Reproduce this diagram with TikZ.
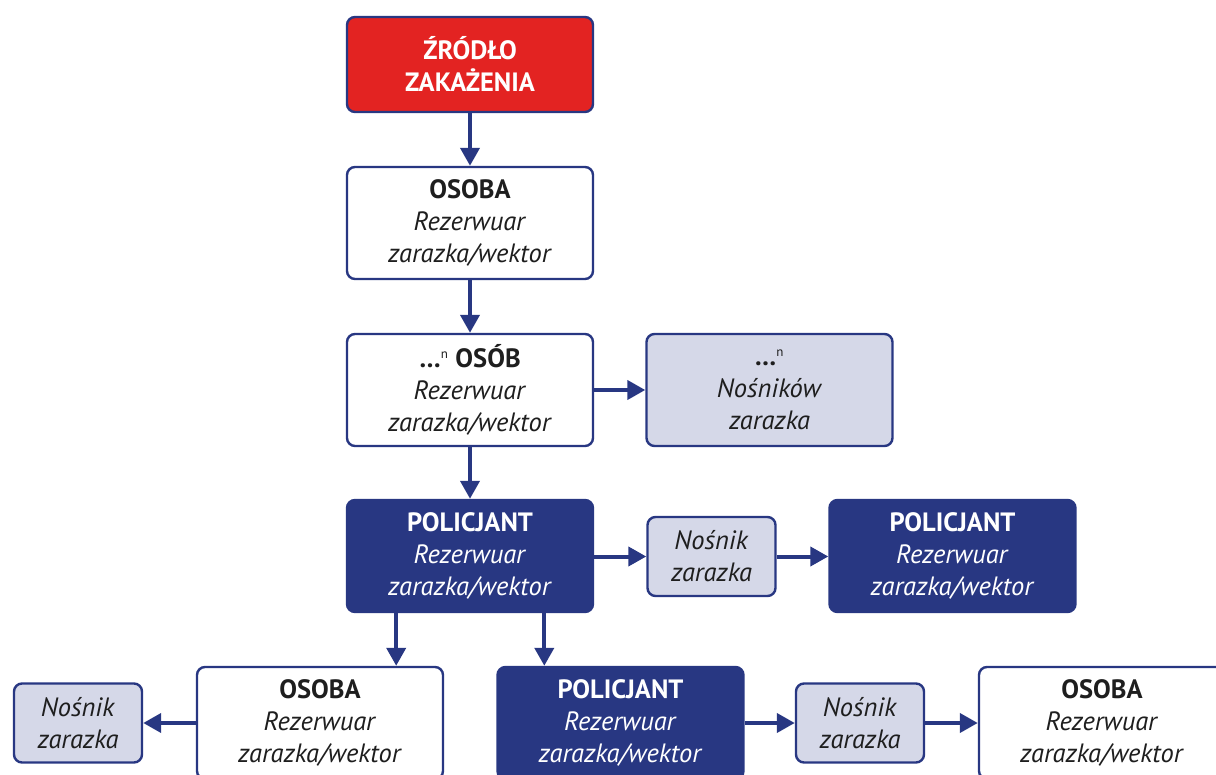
\documentclass[tikz,border=0pt]{standalone}
\usepackage{fontspec}
\setmainfont{PT Sans}
\usetikzlibrary{arrows.meta}
\definecolor{navy}{RGB}{40,55,130}
\definecolor{redbox}{RGB}{227,35,34}
\definecolor{lightbox}{RGB}{213,216,232}
\definecolor{txt}{RGB}{30,30,30}
\tikzset{
  box/.style={draw=navy, line width=2.4pt, rounded corners=8pt, minimum width=246pt, minimum height=112pt,
    align=center, inner sep=0pt, font=\fontsize{26.5}{32}\selectfont, text=txt},
  whitebox/.style={box, fill=white},
  navybox/.style={box, fill=navy, text=white},
  redboxs/.style={box, fill=redbox, text=white, minimum height=95pt},
  smallbox/.style={box, fill=lightbox, minimum width=128pt, minimum height=79pt},
  conn/.style={draw=navy, line width=4pt, -{Triangle[length=18pt,width=19pt]}}
}
\newcommand{\hd}[1]{\textbf{#1}}
\newcommand{\sub}[1]{\textit{#1}}
\newcommand{\dotsn}{\textbf{…}\textsuperscript{\fontsize{13}{13}\selectfont n}}
\begin{document}
\begin{tikzpicture}[x=1pt,y=-1pt]
\useasboundingbox (0,0) rectangle (1216,775);
\clip (0,0) rectangle (1216,775);
\node[redboxs] (src) at (470,64.5) {\hd{ŹRÓDŁO}\\\hd{ZAKAŻENIA}};
\node[whitebox] (os1) at (470,223) {\hd{OSOBA}\\\sub{Rezerwuar}\\\sub{zarazka/wektor}};
\node[whitebox] (osn) at (470,390) {\dotsn{} \hd{OSÓB}\\\sub{Rezerwuar}\\\sub{zarazka/wektor}};
\node[box, fill=lightbox] (nn) at (769.5,390) {\dotsn\\\sub{Nośników}\\\sub{zarazka}};
\node[navybox] (p1) at (470,556) {\hd{POLICJANT}\\\sub{Rezerwuar}\\\sub{zarazka/wektor}};
\node[smallbox] (n1) at (711.5,556.5) {\sub{Nośnik}\\\sub{zarazka}};
\node[navybox] (p2) at (952.5,556) {\hd{POLICJANT}\\\sub{Rezerwuar}\\\sub{zarazka/wektor}};
\node[whitebox] (os2) at (320,723) {\hd{OSOBA}\\\sub{Rezerwuar}\\\sub{zarazka/wektor}};
\node[smallbox] (n2) at (78,723) {\sub{Nośnik}\\\sub{zarazka}};
\node[navybox] (p3) at (620.5,723) {\hd{POLICJANT}\\\sub{Rezerwuar}\\\sub{zarazka/wektor}};
\node[smallbox] (n3) at (860,723) {\sub{Nośnik}\\\sub{zarazka}};
\node[whitebox] (os3) at (1102,723) {\hd{OSOBA}\\\sub{Rezerwuar}\\\sub{zarazka/wektor}};
\path[conn] (src) -- (os1);
\path[conn] (os1) -- (osn);
\path[conn] (osn) -- (nn);
\path[conn] (osn) -- (p1);
\path[conn] (p1.east |- n1) -- (n1);
\path[conn] (n1) -- (p2.west |- n1);
\path[conn] (p1.south -| os2.north east) ++(-48,0) coordinate (a1) -- (a1 |- os2.north);
\path[conn] (p1.south -| p3.north west) ++(48,0) coordinate (a2) -- (a2 |- p3.north);
\path[conn] (os2.west |- n2) -- (n2);
\path[conn] (p3.east |- n3) -- (n3);
\path[conn] (n3) -- (os3.west |- n3);
\end{tikzpicture}
\end{document}
